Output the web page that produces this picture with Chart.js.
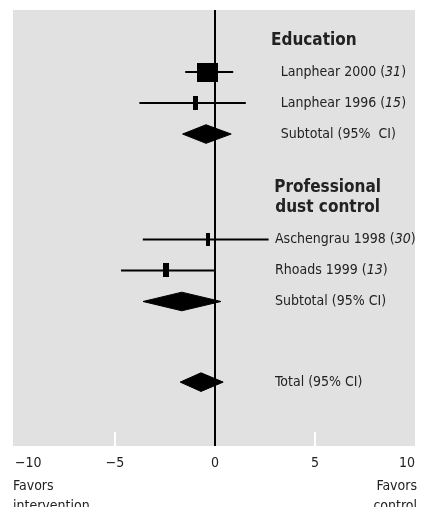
<!DOCTYPE html>
<html>
<head>
<meta charset="utf-8">
<script src="https://cdn.jsdelivr.net/npm/chart.js@4/dist/chart.umd.min.js"></script>
<style>
  html, body { margin: 0; padding: 0; background: #fff; }
  #wrap { position: relative; width: 422px; height: 507px; }
</style>
</head>
<body>
<div id="wrap"><canvas id="chart_forest"></canvas></div>
<script>
// ---- data ----
var studyNames = ['Lanphear 2000', 'Lanphear 1996', 'Aschengrau 1998', 'Rhoads 1999'];
var studyRefs = ['31', '15', '30', '13'];
var studyEst = [-0.36, -0.97, -0.35, -2.44];
var studyLow = [-1.49, -3.78, -3.61, -4.70];
var studyHigh = [0.91, 1.54, 2.68, 0.0];
var studyRow = [2, 3, 7.4, 8.4];

var pooledNames = ['Subtotal (95%  CI)', 'Subtotal (95% CI)', 'Total (95% CI)'];
var pooledEst = [-0.45, -1.66, -0.70];
var pooledLow = [-1.62, -3.60, -1.74];
var pooledHigh = [0.81, 0.30, 0.41];
var pooledRow = [4, 9.4, 12];

var xTicks = [-10, -5, 0, 5, 10];

// marker box sizes (px), roughly by study weight
var markerW = [21, 5, 4, 6];
var markerH = [19, 14, 13, 14];

var FONT = "'Liberation Sans Narrow', 'DejaVu Sans Condensed', sans-serif";
var INK = '#222';

function boxImage(w, h) {
    var c = document.createElement('canvas');
    c.width = w; c.height = h;
    var g = c.getContext('2d');
    g.fillStyle = '#000';
    g.fillRect(0, 0, w, h);
    return c;
}
var markerImgs = markerW.map(function (w, i) { return boxImage(w, markerH[i]); });

var datasets = [];
studyNames.forEach(function (n, i) {
    datasets.push({
        label: n + ' CI',
        data: [{x: studyLow[i], y: studyRow[i]}, {x: studyHigh[i], y: studyRow[i]}],
        borderColor: '#000',
        borderWidth: 2,
        pointRadius: 0,
        fill: false
    });
});
datasets.push({
    label: 'studies',
    data: studyEst.map(function (v, i) { return {x: v, y: studyRow[i]}; }),
    showLine: false,
    pointRadius: 6,
    pointStyle: function (ctx) { return markerImgs[ctx.dataIndex]; }
});
var dh = 0.3; // diamond half height in row units
pooledNames.forEach(function (n, i) {
    var r = pooledRow[i];
    datasets.push({
        label: n,
        data: [
            {x: pooledLow[i], y: r}, {x: pooledEst[i], y: r - dh},
            {x: pooledHigh[i], y: r}, {x: pooledEst[i], y: r + dh},
            {x: pooledLow[i], y: r}
        ],
        borderColor: '#000',
        backgroundColor: '#000',
        borderWidth: 1,
        pointRadius: 0,
        tension: 0,
        fill: 'shape'
    });
});

var studyLabelX = [3.29, 3.29, 3.0, 3.0];
var pooledLabelX = [3.29, 3.0, 3.0];

var chart_forest = new Chart(document.getElementById('chart_forest'), {
    type: 'line',
    data: { datasets: datasets },
    options: {
        animation: false,
        responsive: true,
        maintainAspectRatio: false,
        layout: { padding: { left: 13, right: 2, top: 10, bottom: 0 } },
        plugins: {
            legend: { display: false },
            tooltip: { enabled: false }
        },
        scales: {
            x: {
                type: 'linear',
                min: -10.1,
                max: 10,
                afterBuildTicks: function (s) { s.ticks = xTicks.map(function (v) { return {value: v}; }); },
                afterFit: function (s) { s.height = 61; s.paddingLeft = 0; s.paddingRight = 0; },
                border: { display: false },
                grid: {
                    drawTicks: false,
                    lineWidth: 2,
                    color: function (c) { return c.tick && c.tick.value === 0 ? '#000' : 'rgba(0,0,0,0)'; }
                },
                ticks: {
                    align: 'inner',
                    padding: 9,
                    color: INK,
                    font: { family: FONT, size: 14 },
                    callback: function (v) { return v < 0 ? '\u2212' + Math.abs(v) : '' + v; }
                }
            },
            y: {
                type: 'linear',
                min: 0,
                max: 14.06,
                reverse: true,
                display: false
            }
        }
    },
    plugins: [{
        id: 'plotBack',
        beforeDraw: function (chart) {
            var ctx = chart.ctx, a = chart.chartArea;
            ctx.save();
            ctx.fillStyle = '#e1e1e1';
            ctx.fillRect(a.left, a.top, a.right - a.left, a.bottom - a.top);
            ctx.restore();
        },
        beforeDatasetsDraw: function (chart) {
            // short white tick marks inside the plot
            var ctx = chart.ctx, a = chart.chartArea, sx = chart.scales.x;
            ctx.save();
            ctx.strokeStyle = '#fff';
            ctx.lineWidth = 2;
            [-5, 5].forEach(function (v) {
                var px = Math.round(sx.getPixelForValue(v));
                ctx.beginPath();
                ctx.moveTo(px, a.bottom - 14);
                ctx.lineTo(px, a.bottom);
                ctx.stroke();
            });
            ctx.restore();
        },
        afterDraw: function (chart) {
            var ctx = chart.ctx, sx = chart.scales.x, sy = chart.scales.y;
            ctx.save();
            ctx.fillStyle = INK;
            ctx.textBaseline = 'middle';

            function labelled(name, ref, xv, row) {
                var x = sx.getPixelForValue(xv), y = sy.getPixelForValue(row);
                var reg = '14px ' + FONT, ita = 'italic 14px ' + FONT;
                ctx.textAlign = 'left';
                ctx.font = reg;
                var head = ref ? name + ' (' : name;
                ctx.fillText(head, x, y);
                if (!ref) return;
                x += ctx.measureText(head).width;
                ctx.font = ita;
                ctx.fillText(ref, x, y);
                x += ctx.measureText(ref).width;
                ctx.font = reg;
                ctx.fillText(')', x, y);
            }
            studyNames.forEach(function (n, i) { labelled(n, studyRefs[i], studyLabelX[i], studyRow[i]); });
            pooledNames.forEach(function (n, i) { labelled(n, null, pooledLabelX[i], pooledRow[i]); });

            // group headings
            ctx.font = 'bold 17px ' + FONT;
            ctx.textAlign = 'left';
            ctx.fillText('Education', sx.getPixelForValue(2.8), sy.getPixelForValue(0.97));
            ctx.textAlign = 'center';
            ctx.fillText('Professional', sx.getPixelForValue(5.63), sy.getPixelForValue(5.72));
            ctx.fillText('dust control', sx.getPixelForValue(5.63), sy.getPixelForValue(6.36));

            // direction notes under the axis
            ctx.font = '14px ' + FONT;
            var yb = chart.chartArea.bottom, l = chart.chartArea.left, r = chart.chartArea.right;
            ctx.textAlign = 'left';
            ctx.fillText('Favors', l, yb + 40);
            ctx.fillText('intervention', l, yb + 60);
            ctx.textAlign = 'right';
            ctx.fillText('Favors', r + 2, yb + 40);
            ctx.fillText('control', r + 2, yb + 60);
            ctx.restore();
        }
    }]
});
</script>
</body>
</html>
